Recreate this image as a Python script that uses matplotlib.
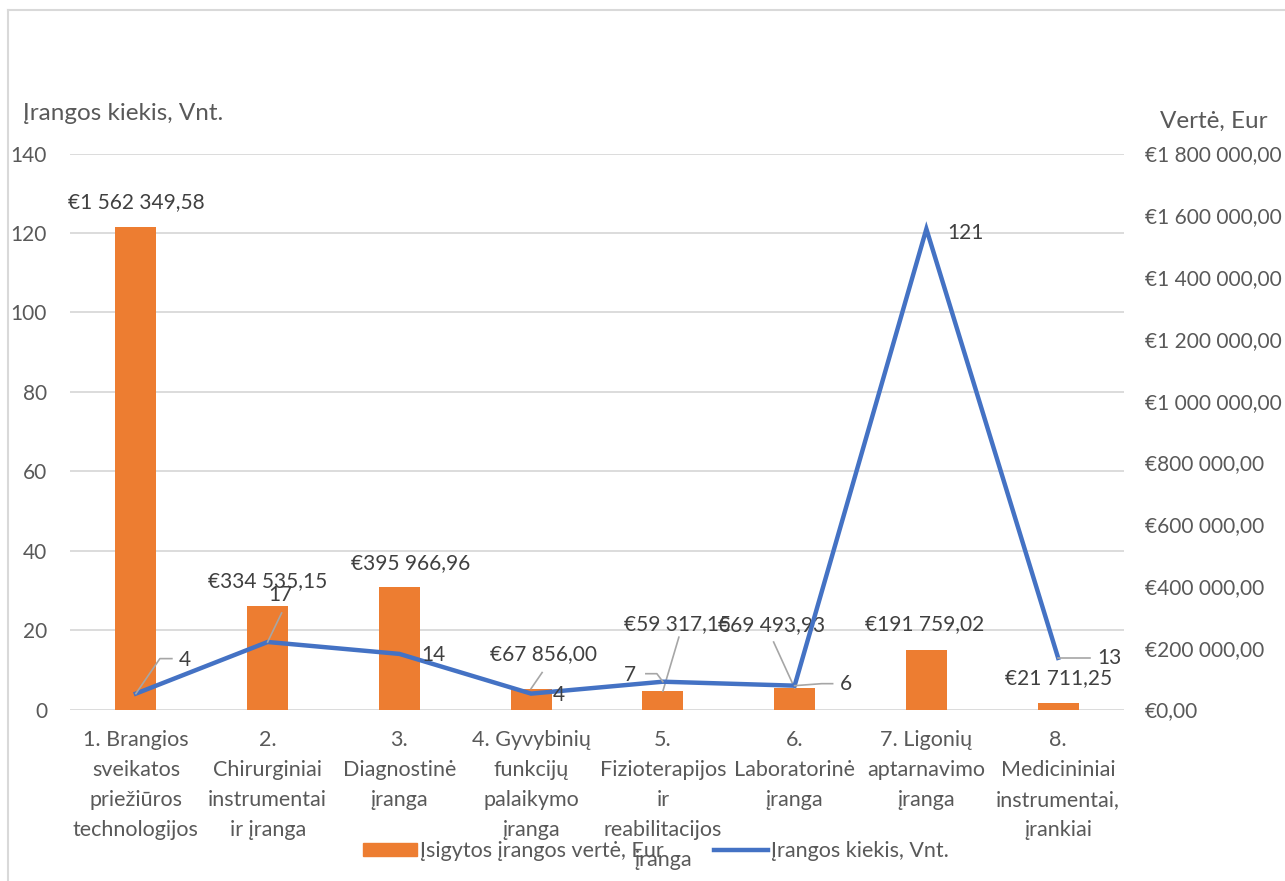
import matplotlib
matplotlib.use("Agg")
import matplotlib.pyplot as plt
from matplotlib.lines import Line2D
from matplotlib.patches import Patch
from matplotlib.transforms import IdentityTransform

plt.rcParams['font.family'] = ['Lato', 'DejaVu Sans']

categories = [
    "1. Brangios\nsveikatos\npriežiūros\ntechnologijos",
    "2.\nChirurginiai\ninstrumentai\nir įranga",
    "3.\nDiagnostinė\nįranga",
    "4. Gyvybinių\nfunkcijų\npalaikymo\nįranga",
    "5.\nFizioterapijos\nir\nreabilitacijos\nįranga",
    "6.\nLaboratorinė\nįranga",
    "7. Ligonių\naptarnavimo\nįranga",
    "8.\nMedicininiai\ninstrumentai,\nįrankiai",
]
values_eur = [1562349.58, 334535.15, 395966.96, 67856.00, 59317.15, 69493.93, 191759.02, 21711.25]
counts = [4, 17, 14, 4, 7, 6, 121, 13]
count_ticks = [0, 20, 40, 60, 80, 100, 120, 140]
eur_ticks = [0, 200000, 400000, 600000, 800000, 1000000, 1200000, 1400000, 1600000, 1800000]

ORANGE = "#ED7D31"
BLUE = "#4472C4"
GRID = "#D9D9D9"
TXT = "#595959"
LBL = "#404040"
LEAD = "#A6A6A6"
FS_NUM = 15
FS_CAT = 15.5
FS_LEG = 15.5
FS_TITLE = 17.5


def eur(v):
    return "€" + f"{v:,.2f}".replace(",", " ").replace(".", ",")


W, H = 1285, 881
fig = plt.figure(figsize=(W / 100, H / 100), dpi=100)
left, right, bottom, top = 70, 1124, 709.5, 153.5
ax = fig.add_axes([left / W, 1 - bottom / H, (right - left) / W, (bottom - top) / H])
ax2 = ax.twinx()
ax3 = ax.twinx()

x = list(range(len(categories)))

# count axis (left) with grid
ax.set_xlim(-0.5, len(categories) - 0.5)
ax.set_ylim(0, 140)
ax.set_yticks(count_ticks)
ax.yaxis.grid(True, color=GRID, lw=1.3)
ax.set_axisbelow(True)
ax.tick_params(axis='y', length=0, pad=16.5, labelsize=FS_NUM, labelcolor=TXT)
ax.set_xticks(x)
ax.set_xticklabels(categories, fontsize=FS_CAT, color=TXT, linespacing=1.62, va='top')
ax.tick_params(axis='x', length=0, pad=15)
for s in ax.spines.values():
    s.set_visible(False)

# Eur axis (right) with bars
ax2.set_ylim(0, 1800000)
ax2.set_yticks(eur_ticks)
ax2.set_yticklabels([eur(t) for t in eur_ticks])
ax2.tick_params(axis='y', length=0, pad=15, labelsize=FS_NUM, labelcolor=TXT)
bars = ax2.bar(x, values_eur, width=0.31, color=ORANGE, zorder=2)
for s in ax2.spines.values():
    s.set_visible(False)

# line axis
ax3.set_ylim(0, 140)
ax3.set_yticks([])
for s in ax3.spines.values():
    s.set_visible(False)
ax3.plot(x, counts, color=BLUE, lw=3.2, solid_joinstyle='miter', zorder=3)

# axis titles
fig.text(23 / W, 1 - 113 / H, "Įrangos kiekis, Vnt.", fontsize=FS_TITLE, color=TXT, ha='left', va='center')
fig.text(1268 / W, 1 - 121 / H, "Vertė, Eur", fontsize=FS_TITLE, color=TXT, ha='right', va='center')

# bar labels: (dx, dy) pixel offsets of label centre from bar top
bar_off = [(0, 25), (0, 25), (11, 24), (12, 34), (15, 67), (-23, 63), (-2, 26), (0, 25)]
bar_leads = {3: [(11, 16)], 4: [(16, 54)], 5: [(-21, 46)]}
for i, (v, (dx, dy)) in enumerate(zip(values_eur, bar_off)):
    ax2.annotate(eur(v), (x[i], v), xytext=(dx, dy), textcoords='offset pixels',
                 ha='center', va='center', fontsize=FS_NUM, color=LBL, zorder=5)

line_off = [(49, 34), (13, 47), (34, -1), (28, -1), (-33, 7), (51, 2), (39, -4), (51, 0)]
line_leads = {0: [(24, 35), (36, 35)], 1: [(14, 29)], 4: [(-6, 8), (-17, 8)],
              5: [(27, 2), (38, 2)], 7: [(32, 0)]}
for i, (c, (dx, dy)) in enumerate(zip(counts, line_off)):
    ax3.annotate(str(c), (x[i], c), xytext=(dx, dy), textcoords='offset pixels',
                 ha='center', va='center', fontsize=FS_NUM, color=LBL, zorder=5)


def leader(axis, xv, yv, offs):
    px, py = axis.transData.transform((xv, yv))
    xs = [px] + [px + a for a, b in offs]
    ys = [py] + [py + b for a, b in offs]
    axis.add_line(Line2D(xs, ys, transform=IdentityTransform(), color=LEAD, lw=1.2,
                         clip_on=False, zorder=4))


for i, offs in bar_leads.items():
    leader(ax2, x[i], values_eur[i], offs)
for i, offs in line_leads.items():
    leader(ax3, x[i], counts[i], offs)

# legend
handles = [Patch(color=ORANGE), Line2D([], [], color=BLUE, lw=3.2)]
labels = ["Įsigytos įrangos vertė, Eur", "Įrangos kiekis, Vnt."]
fig.legend(handles, labels, loc='center', bbox_to_anchor=(656 / W, 1 - 851 / H), ncol=2,
           frameon=False, fontsize=FS_LEG, labelcolor=TXT, handlelength=2.5, handleheight=0.55,
           handletextpad=0.15, columnspacing=2.3)

# chart border (left and top)
fig.add_artist(Line2D([8 / W, 8 / W], [0, 1 - 10 / H], transform=fig.transFigure, color=GRID, lw=1.5))
fig.add_artist(Line2D([8 / W, 1], [1 - 10 / H, 1 - 10 / H], transform=fig.transFigure, color=GRID, lw=1.5))

fig.savefig("out.png", dpi=100)
